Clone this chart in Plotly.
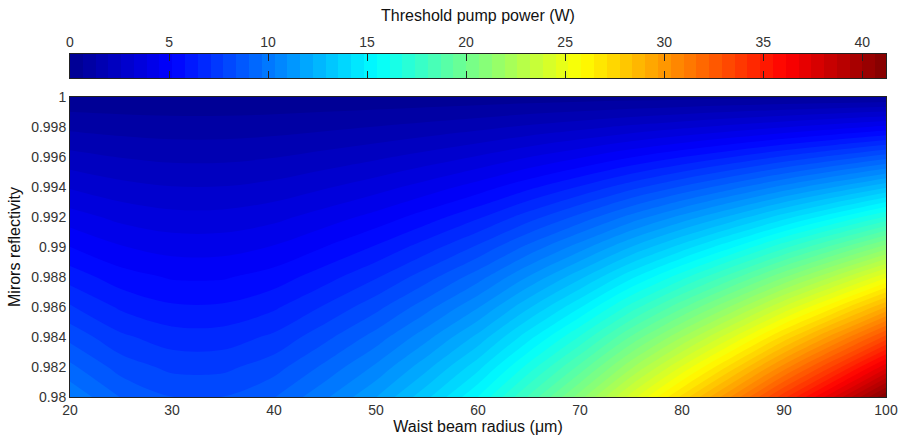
import plotly.graph_objects as go

# Waist beam radius (µm) and mirror reflectivity grid
waist_um = [20, 25, 30, 35, 40, 45, 50, 55, 60, 65, 70, 75, 80, 85, 90, 95, 100]
reflectivity = [0.980, 0.982, 0.984, 0.986, 0.988, 0.990, 0.992, 0.994, 0.996, 0.998, 1.000]

# Threshold pump power (W), one row per reflectivity value
power_R0980 = [10.2, 9.0, 8.4, 8.4, 9.0, 10.2, 11.6, 13.4, 15.5, 18.2, 21.0, 24.2, 27.3, 30.5, 34.0, 37.5, 41.3]
power_R0982 = [9.19, 8.11, 7.57, 7.57, 8.11, 9.19, 10.45, 12.07, 13.97, 16.40, 18.92, 21.80, 24.60, 27.48, 30.63, 33.79, 37.21]
power_R0984 = [8.19, 7.23, 6.75, 6.75, 7.23, 8.19, 9.31, 10.76, 12.45, 14.61, 16.86, 19.43, 21.92, 24.49, 27.30, 30.11, 33.16]
power_R0986 = [7.18, 6.34, 5.91, 5.91, 6.34, 7.18, 8.17, 9.43, 10.91, 12.81, 14.78, 17.04, 19.22, 21.47, 23.94, 26.40, 29.08]
power_R0988 = [6.18, 5.45, 5.09, 5.09, 5.45, 6.18, 7.03, 8.12, 9.39, 11.03, 12.73, 14.67, 16.54, 18.48, 20.60, 22.73, 25.03]
power_R0990 = [5.17, 4.56, 4.26, 4.26, 4.56, 5.17, 5.88, 6.79, 7.86, 9.23, 10.65, 12.27, 13.84, 15.46, 17.24, 19.01, 20.94]
power_R0992 = [4.17, 3.68, 3.44, 3.44, 3.68, 4.17, 4.74, 5.48, 6.34, 7.44, 8.59, 9.90, 11.17, 12.47, 13.91, 15.34, 16.89]
power_R0994 = [3.16, 2.79, 2.60, 2.60, 2.79, 3.16, 3.60, 4.15, 4.81, 5.64, 6.51, 7.50, 8.46, 9.46, 10.54, 11.63, 12.80]
power_R0996 = [2.16, 1.91, 1.78, 1.78, 1.91, 2.16, 2.46, 2.84, 3.29, 3.86, 4.45, 5.13, 5.79, 6.47, 7.21, 7.95, 8.76]
power_R0998 = [1.15, 1.02, 0.95, 0.95, 1.02, 1.15, 1.31, 1.51, 1.75, 2.06, 2.37, 2.73, 3.08, 3.45, 3.84, 4.24, 4.67]
power_R1000 = [0.15, 0.14, 0.13, 0.13, 0.14, 0.15, 0.17, 0.20, 0.23, 0.27, 0.32, 0.36, 0.41, 0.46, 0.51, 0.56, 0.62]

power_grid = [power_R0980, power_R0982, power_R0984, power_R0986, power_R0988, power_R0990,
              power_R0992, power_R0994, power_R0996, power_R0998, power_R1000]

x_ticks = [20, 30, 40, 50, 60, 70, 80, 90, 100]
y_ticks = [0.98, 0.982, 0.984, 0.986, 0.988, 0.99, 0.992, 0.994, 0.996, 0.998, 1.0]
y_ticktext = ["0.98", "0.982", "0.984", "0.986", "0.988", "0.99", "0.992", "0.994", "0.996", "0.998", "1"]
cbar_ticks = [0, 5, 10, 15, 20, 25, 30, 35, 40]

zmax = 41.3
n_colors = 64
step = zmax / n_colors
cbar_levels = [step * (i + 0.5) for i in range(n_colors)]

jet = [[0.0, "rgb(0,0,143)"], [0.125, "rgb(0,0,255)"], [0.375, "rgb(0,255,255)"],
       [0.625, "rgb(255,255,0)"], [0.875, "rgb(255,0,0)"], [1.0, "rgb(128,0,0)"]]

FONT = "Liberation Sans, Arial, sans-serif"
TXT = "#262626"

fig = go.Figure()
fig.add_trace(go.Contour(
    x=waist_um, y=reflectivity, z=power_grid,
    colorscale=jet, zmin=0, zmax=zmax, autocontour=False,
    contours=dict(start=0, end=zmax, size=step, coloring="fill", showlines=False),
    line=dict(width=0, smoothing=1.0),
    showscale=False, xaxis="x", yaxis="y", hoverinfo="skip",
))
fig.add_trace(go.Heatmap(
    x=cbar_levels, y=[0], z=[cbar_levels],
    colorscale=jet, zmin=0, zmax=zmax, showscale=False,
    xaxis="x2", yaxis="y2", hoverinfo="skip",
))

fig.update_layout(
    width=900, height=439,
    margin=dict(l=70, r=14, t=10, b=42),
    paper_bgcolor="white", plot_bgcolor="white",
    font=dict(family=FONT, color=TXT, size=14),
    showlegend=False,
    xaxis=dict(
        domain=[0, 1], anchor="y", range=[20, 100],
        tickvals=x_ticks, ticks="", showgrid=False, zeroline=False,
        showline=True, mirror=True, linecolor="#222", linewidth=1,
        tickfont=dict(size=14, color="#333"),
        title=dict(text="Waist beam radius (μm)", font=dict(size=16, color="#111"), standoff=2),
        automargin=False,
    ),
    yaxis=dict(
        domain=[0, 0.7752], anchor="x", range=[0.98, 1.0],
        tickvals=y_ticks, ticktext=y_ticktext, ticks="", showgrid=False, zeroline=False,
        showline=True, mirror=True, linecolor="#222", linewidth=1,
        tickfont=dict(size=14, color="#333"),
        title=dict(text="Mirors reflectivity", font=dict(size=16, color="#111"), standoff=6),
        automargin=False,
    ),
    xaxis2=dict(
        domain=[0, 1], anchor="y2", side="top", range=[0, 41.2],
        tickvals=cbar_ticks, ticks="inside", ticklen=7, tickcolor="#222", tickwidth=1,
        showline=True, mirror="ticks", linecolor="#222", linewidth=1,
        showgrid=False, zeroline=False,
        tickfont=dict(size=14, color="#333"),
        title=dict(text="Threshold pump power (W)", font=dict(size=16, color="#111"), standoff=8),
        automargin=False,
    ),
    yaxis2=dict(
        domain=[0.8243, 0.8863], anchor="x2", range=[-0.5, 0.5],
        showticklabels=False, ticks="", showgrid=False, zeroline=False,
        showline=True, mirror=True, linecolor="#222", linewidth=1,
    ),
)

fig.write_html("out.html")
